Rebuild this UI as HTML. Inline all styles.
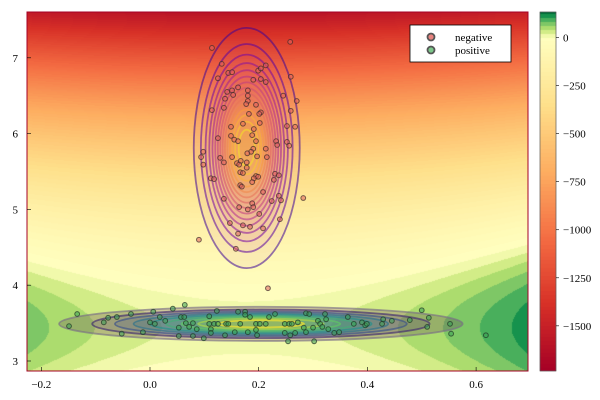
<!DOCTYPE html>
<html><head><meta charset="utf-8"><style>
body{margin:0;background:#fff;}
#wrap{position:relative;width:600px;height:400px;font-family:"Liberation Serif",serif;}
canvas,svg{position:absolute;left:0;top:0;}
</style></head><body>
<div id="wrap">
<canvas id="bg" width="600" height="400"></canvas>
<svg id="svg" width="600" height="400"></svg>
</div>
<script>
const negX=[0.114,0.258,0.132,0.144,0.151,0.199,0.204,0.213,0.125,0.190,0.204,0.213,0.259,0.142,0.151,0.153,0.162,0.180,0.180,0.180,0.245,0.270,0.138,0.136,0.177,0.195,0.114,0.204,0.201,0.259,0.182,0.171,0.202,0.252,0.267,0.149,0.191,0.188,0.195,0.149,0.155,0.162,0.125,0.232,0.234,0.252,0.256,0.190,0.186,0.197,0.179,0.213,0.098,0.094,0.098,0.129,0.136,0.151,0.215,0.160,0.167,0.164,0.178,0.178,0.166,0.171,0.195,0.199,0.191,0.230,0.237,0.112,0.118,0.228,0.188,0.166,0.169,0.208,0.237,0.241,0.224,0.136,0.282,0.188,0.190,0.180,0.164,0.201,0.239,0.147,0.171,0.184,0.208,0.162,0.090,0.158,0.217];
const negY=[7.13,7.21,6.92,6.80,6.81,6.83,6.86,6.90,6.73,6.71,6.72,6.68,6.75,6.55,6.57,6.51,6.61,6.57,6.50,6.43,6.50,6.43,6.46,6.34,6.39,6.38,6.31,6.28,6.26,6.30,6.26,6.13,6.14,6.10,6.09,6.09,6.06,5.98,5.90,5.97,5.92,5.90,5.94,5.90,5.85,5.89,5.84,5.80,5.76,5.70,5.74,5.80,5.76,5.69,5.59,5.68,5.62,5.69,5.69,5.61,5.64,5.59,5.62,5.55,5.49,5.48,5.44,5.43,5.41,5.47,5.45,5.41,5.40,5.39,5.36,5.32,5.30,5.23,5.18,5.12,5.11,5.14,5.15,5.08,5.03,5.00,5.03,4.94,4.87,4.82,4.79,4.77,4.75,4.68,4.60,4.48,3.96];
const posX=[0.064,0.042,-0.134,-0.149,-0.077,-0.085,-0.061,-0.035,0.006,0.018,0.000,0.009,0.028,-0.052,-0.013,0.057,0.063,0.066,0.079,0.053,0.072,0.086,0.053,0.079,0.099,0.109,0.123,0.109,0.118,0.112,0.112,0.138,0.125,0.140,0.144,0.156,0.162,0.175,0.175,0.184,0.166,0.180,0.195,0.202,0.213,0.195,0.197,0.219,0.230,0.248,0.256,0.261,0.248,0.258,0.267,0.254,0.287,0.293,0.272,0.283,0.287,0.300,0.302,0.309,0.313,0.317,0.322,0.324,0.328,0.339,0.348,0.364,0.375,0.390,0.396,0.399,0.427,0.429,0.445,0.478,0.500,0.513,0.510,0.552,0.554,0.618];
const posY=[3.74,3.69,3.62,3.46,3.57,3.51,3.58,3.62,3.65,3.58,3.51,3.49,3.53,3.36,3.38,3.58,3.58,3.50,3.50,3.44,3.45,3.42,3.33,3.33,3.30,3.59,3.66,3.49,3.49,3.42,3.37,3.34,3.49,3.49,3.49,3.38,3.65,3.65,3.61,3.58,3.49,3.38,3.49,3.49,3.49,3.41,3.34,3.58,3.62,3.49,3.49,3.49,3.37,3.34,3.37,3.26,3.63,3.62,3.51,3.44,3.38,3.44,3.26,3.53,3.49,3.45,3.62,3.55,3.42,3.37,3.38,3.58,3.49,3.51,3.47,3.49,3.49,3.55,3.53,3.54,3.67,3.57,3.45,3.49,3.36,3.34];
const xTicks=[-0.2,0.0,0.2,0.4,0.6];
const xTickLabels=["\u22120.2","0.0","0.2","0.4","0.6"];
const yTicks=[3,4,5,6,7];
const cbTicks=[0,-250,-500,-750,-1000,-1250,-1500];
const cbTickLabels=["0","\u2212250","\u2212500","\u2212750","\u22121000","\u22121250","\u22121500"];
const negMean=[0.178,5.81], negSd=[0.0414,0.673];
const posMean=[0.204,3.49], posSd=[0.173,0.105];

const L=27,R=528,T=12,B=371;
const sx=v=>150+v*543.5, sy=v=>361-(v-3)*75.8;
const ix=p=>(p-150)/543.5, iy=p=>3+(361-p)/75.8;
const VMIN=-1735,VMAX=133;
const cb=v=>371-(v-VMIN)/(VMAX-VMIN)*359;
const stops=[[165,0,38],[215,48,39],[244,109,67],[253,174,97],[254,224,139],[255,255,191],[217,239,139],[166,217,106],[102,189,99],[26,152,80],[0,104,55]];
function cmap(t){t=Math.max(0,Math.min(1,t));const f=t*10,i=Math.min(9,Math.floor(f)),u=f-i;const a=stops[i],b=stops[i+1];return [a[0]+(b[0]-a[0])*u,a[1]+(b[1]-a[1])*u,a[2]+(b[2]-a[2])*u];}
function norm(v){return v<0?0.5*(1-v/VMIN):0.5+0.5*v/VMAX;}
function fval(x,y){
 const sp=[0.2,0.0725],sn=[0.036,0.5];
 return -Math.pow(y-posMean[1],2)/(2*sp[1]*sp[1])-Math.pow(x-posMean[0],2)/(2*sp[0]*sp[0])
  +Math.pow(x-negMean[0],2)/(2*sn[0]*sn[0])+Math.pow(y-negMean[1],2)/(2*sn[1]*sn[1]);
}
const ctx=document.getElementById('bg').getContext('2d');
const img=ctx.createImageData(R-L,B-T);
for(let j=0;j<B-T;j++)for(let i=0;i<R-L;i++){
 let v=fval(ix(L+i+0.5),iy(T+j+0.5));v=Math.max(VMIN,Math.min(VMAX,v));
 v=Math.floor(v/20)*20+10;const c=cmap(norm(v));const k=(j*(R-L)+i)*4;
 img.data[k]=c[0];img.data[k+1]=c[1];img.data[k+2]=c[2];img.data[k+3]=255;}
ctx.putImageData(img,L,T);
const cimg=ctx.createImageData(16,359);
for(let j=0;j<359;j++){let v=VMAX-(j+0.5)/359*(VMAX-VMIN);v=Math.floor(v/20)*20+10;const c=cmap(norm(v));
 for(let i=0;i<16;i++){const k=(j*16+i)*4;cimg.data[k]=c[0];cimg.data[k+1]=c[1];cimg.data[k+2]=c[2];cimg.data[k+3]=255;}}
ctx.putImageData(cimg,540,12);

const svg=document.getElementById('svg');const NS='http://www.w3.org/2000/svg';
function mk(tag,attrs,parent){const e=document.createElementNS(NS,tag);for(const k in attrs)e.setAttribute(k,attrs[k]);(parent||svg).appendChild(e);return e;}
const plasma=[[13,8,135],[106,0,168],[177,42,144],[225,100,98],[252,166,54],[240,249,33]];
const viridis=[[68,1,84],[59,82,139],[33,145,140],[94,201,98],[253,231,37]];
function interp(arr,t){const f=t*(arr.length-1),i=Math.min(arr.length-2,Math.floor(f)),u=f-i;const a=arr[i],b=arr[i+1];return 'rgb('+[0,1,2].map(k=>Math.round(a[k]+(b[k]-a[k])*u)).join(',')+')';}
const clip=mk('clipPath',{id:'pc'});mk('rect',{x:L,y:T,width:R-L,height:B-T},clip);
const g=mk('g',{'clip-path':'url(#pc)'});
const NL=16;
for(let k=1;k<NL;k++){const r=Math.sqrt(-2*Math.log(k/NL));const t=(k-1)/(NL-2);
 const e=mk('ellipse',{cx:sx(negMean[0]),cy:sy(negMean[1]),rx:r*negSd[0]*543.5,ry:r*negSd[1]*75.8,fill:interp(plasma,0.4+0.55*t),'fill-opacity':0.06,stroke:interp(plasma,0.1+0.85*t),'stroke-opacity':0.55,'stroke-width':1.8},g);
 
 }
const PL=10;
for(let k=1;k<PL;k++){const r=Math.sqrt(-2*Math.log(k/PL));const t=(k-1)/(PL-2);
 const e=mk('ellipse',{cx:sx(posMean[0]),cy:sy(posMean[1]),rx:r*posSd[0]*543.5,ry:r*posSd[1]*75.8,fill:interp(viridis,t),'fill-opacity':0.2,stroke:k==1?'#7a6f85':interp(viridis,t),'stroke-opacity':0.65,'stroke-width':1.8},g);
 
 }
for(let i=0;i<negX.length;i++){const c=mk('circle',{cx:sx(negX[i]),cy:sy(negY[i]),r:2.4,fill:'#e0605c','fill-opacity':0.55,stroke:'#3a2a2a','stroke-opacity':0.7,'stroke-width':1},g);
 
 }
for(let i=0;i<posX.length;i++){const c=mk('circle',{cx:sx(posX[i]),cy:sy(posY[i]),r:2.4,fill:'#3aa055','fill-opacity':0.55,stroke:'#1f3324','stroke-opacity':0.7,'stroke-width':1},g);
 
 }
mk('rect',{x:L,y:T,width:R-L,height:B-T,fill:'none',stroke:'#a50026','stroke-width':1});
mk('rect',{x:540,y:12,width:16,height:359,fill:'none',stroke:'#444','stroke-width':0.6});
xTicks.forEach((v,i)=>{mk('line',{x1:sx(v),x2:sx(v),y1:B,y2:B-4,stroke:'#000','stroke-width':0.6});
 const t=mk('text',{x:sx(v),y:388,'text-anchor':'middle','font-size':11,fill:'#000'});t.textContent=xTickLabels[i];
 
 });
yTicks.forEach(v=>{mk('line',{x1:L,x2:L+4,y1:sy(v),y2:sy(v),stroke:'#000','stroke-width':0.6});
 const t=mk('text',{x:18,y:sy(v)+4,'text-anchor':'end','font-size':11,fill:'#000'});t.textContent=String(v);
 
 });
cbTicks.forEach((v,i)=>{mk('line',{x1:556,x2:559,y1:cb(v),y2:cb(v),stroke:'#000','stroke-width':0.6});
 const t=mk('text',{x:563,y:cb(v)+4,'font-size':11,fill:'#000'});t.textContent=cbTickLabels[i];
 
 });
const lg=mk('g',{});
mk('rect',{x:410,y:25,width:101,height:37,fill:'#fff',stroke:'#000','stroke-width':0.8},lg);
mk('circle',{cx:431,cy:37,r:3.5,fill:'#e8837f',stroke:'#555','stroke-width':1.8},lg);
mk('circle',{cx:431,cy:50,r:3.5,fill:'#7cc78a',stroke:'#555','stroke-width':1.8},lg);
const t1=mk('text',{x:455,y:41,'font-size':11},lg);t1.textContent='negative';


const t2=mk('text',{x:455,y:54,'font-size':11},lg);t2.textContent='positive';


</script>
</body></html>
